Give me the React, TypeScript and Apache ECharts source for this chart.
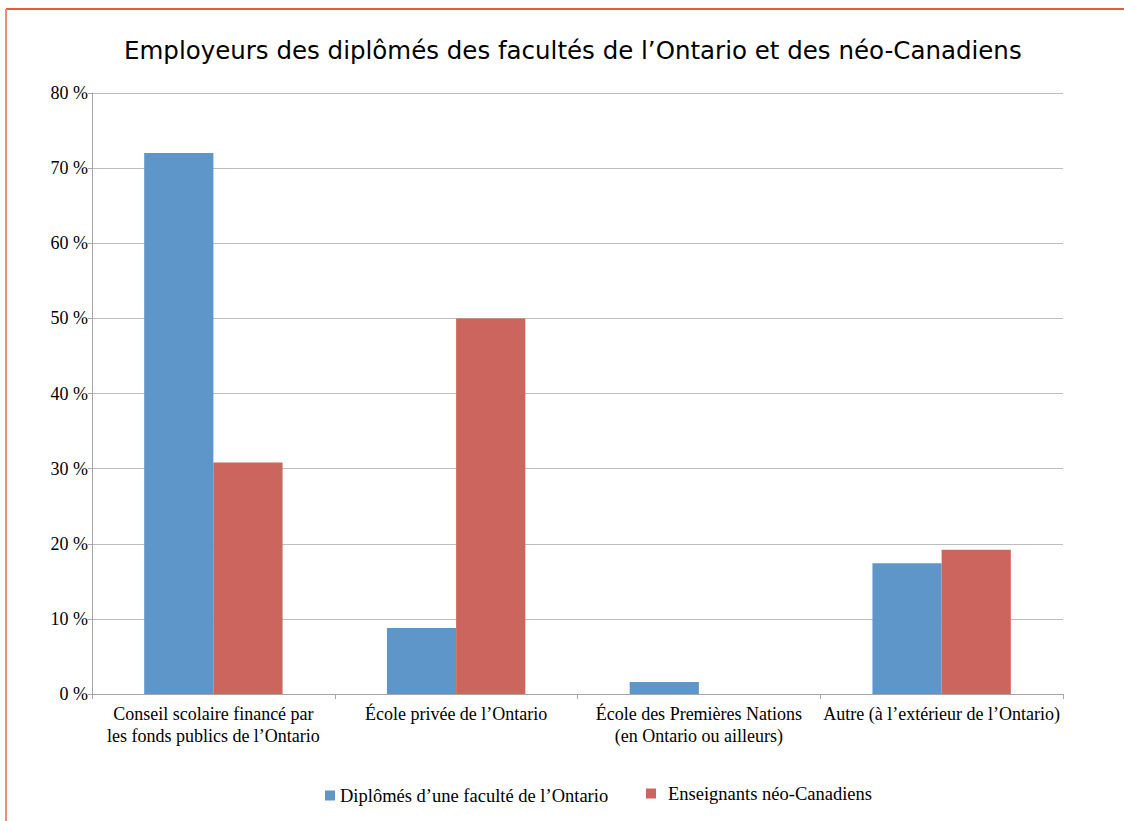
import React, { useEffect, useRef } from "react";
import * as echarts from "echarts";

const categories = [
  "Conseil scolaire financé par\nles fonds publics de l’Ontario",
  "École privée de l’Ontario",
  "École des Premières Nations\n(en Ontario ou ailleurs)",
  "Autre (à l’extérieur de l’Ontario)",
];
const seriesNames = ["Diplômés d’une faculté de l’Ontario", "Enseignants néo-Canadiens"];
const ontarioGrads = [72, 8.8, 1.6, 17.4];
const newCanadians = [30.8, 50, 0, 19.2];
const titleText = "Employeurs des diplômés des facultés de l’Ontario et des néo-Canadiens";

const SERIF = "'Liberation Serif', 'Times New Roman', serif";
const BLUE = "#5F96C9";
const RED = "#CB655E";

export default function App() {
  const ref = useRef<HTMLDivElement>(null);
  useEffect(() => {
    if (!ref.current) return;
    const chart = echarts.init(ref.current, undefined, { renderer: "svg" });
    chart.setOption({
      animation: false,
      backgroundColor: "#ffffff",
      color: [BLUE, RED],
      title: {
        text: titleText,
        left: 119,
        top: 33,
        textStyle: {
          fontFamily: "'DejaVu Sans', Verdana, sans-serif",
          fontSize: 24.5,
          fontWeight: "normal",
          color: "#000000",
        },
      },
      graphic: [
        {
          type: "line",
          shape: { x1: 6, y1: 9, x2: 1124, y2: 9 },
          style: { stroke: "#E8573A", lineWidth: 2 },
        },
        {
          type: "line",
          shape: { x1: 6, y1: 9, x2: 6, y2: 821 },
          style: { stroke: "#F28B73", lineWidth: 2 },
        },
      ],
      legend: [
        {
          left: 325,
          top: 786,
          padding: 0,
          itemWidth: 10,
          itemHeight: 10,
          icon: "rect",
          textStyle: { fontFamily: SERIF, fontSize: 18.5, color: "#000000" },
          data: [seriesNames[0]],
        },
        {
          left: 646,
          top: 784,
          padding: 0,
          itemWidth: 10,
          itemHeight: 10,
          icon: "rect",
          textStyle: { fontFamily: SERIF, fontSize: 18.5, color: "#000000", padding: [0, 0, 0, 7] },
          data: [seriesNames[1]],
        },
      ],
      grid: { left: 92, right: 61, top: 93, bottom: 127, containLabel: false },
      xAxis: {
        type: "category",
        data: categories,
        axisLine: { show: true, lineStyle: { color: "#A6A6A6", width: 1 } },
        axisTick: { show: true, length: 5, interval: 0, lineStyle: { color: "#A6A6A6" } },
        axisLabel: {
          interval: 0,
          margin: 9,
          fontFamily: SERIF,
          fontSize: 18,
          color: "#000000",
          lineHeight: 22,
        },
      },
      yAxis: {
        type: "value",
        min: 0,
        max: 80,
        interval: 10,
        axisLine: { show: true, lineStyle: { color: "#A6A6A6", width: 1 } },
        axisTick: { show: true, length: 4, lineStyle: { color: "#A6A6A6" } },
        splitLine: { show: true, lineStyle: { color: "#BEBEBE", width: 1 } },
        axisLabel: {
          formatter: (v: number) => `${v} %`,
          margin: 4,
          fontFamily: SERIF,
          fontSize: 18,
          color: "#000000",
        },
      },
      series: [
        {
          name: seriesNames[0],
          type: "bar",
          data: ontarioGrads,
          barGap: "0%",
          barCategoryGap: "43%",
          itemStyle: { color: BLUE },
        },
        {
          name: seriesNames[1],
          type: "bar",
          data: newCanadians,
          barGap: "0%",
          barCategoryGap: "43%",
          itemStyle: { color: RED },
        },
      ],
    });
    return () => chart.dispose();
  }, []);
  return (
    <div
      ref={ref}
      style={{ position: "fixed", left: 0, top: 0, width: 1124, height: 821, background: "#fff" }}
    />
  );
}
